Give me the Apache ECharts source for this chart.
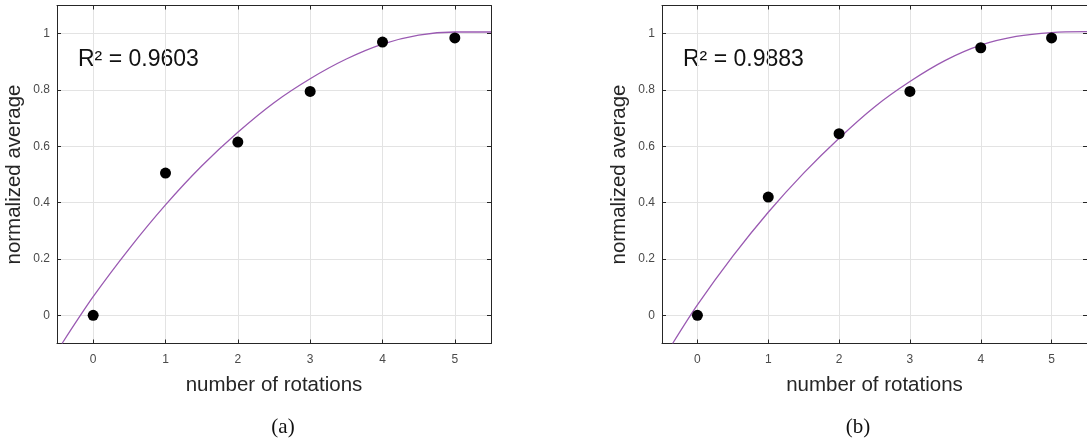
<!DOCTYPE html>
<html><head><meta charset="utf-8">
<script src="https://cdn.jsdelivr.net/npm/echarts@6/dist/echarts.min.js"></script>
<style>html,body{margin:0;padding:0;background:#fff}#c{width:1087px;height:445px}</style>
</head><body><div id="c"></div>
<script>
// ---- data ----
const xTicks = [0, 1, 2, 3, 4, 5];
const yTicks = [0, 0.2, 0.4, 0.6, 0.8, 1];
const rotations = [0, 1, 2, 3, 4, 5];
const avgA = [0, 0.505, 0.615, 0.795, 0.97, 0.985];
const avgB = [0, 0.42, 0.645, 0.795, 0.95, 0.985];
const fitXA = [-0.43, 0, 0.5, 1, 1.5, 2, 2.5, 3, 3.5, 4, 4.5, 5, 5.5];
const fitYA = [-0.1, 0.066, 0.237, 0.392, 0.53, 0.65, 0.755, 0.84, 0.91, 0.963, 0.995, 1.006, 1.006];
const fitXB = [-0.35, 0, 0.5, 1, 1.5, 2, 2.5, 3, 3.5, 4, 4.5, 5, 5.5];
const fitYB = [-0.1, 0.037, 0.21, 0.366, 0.505, 0.629, 0.74, 0.83, 0.905, 0.959, 0.99, 1.004, 1.007];
const r2Labels = ['R\u00B2 = 0.9603', 'R\u00B2 = 0.9883'];
const panelLabels = ['(a)', '(b)'];
const xName = 'number of rotations';
const yName = 'normalized average';

// ---- layout ----
const panels = [
  {left: 57, avg: avgA, fx: fitXA, fy: fitYA, labelX: 283, r2X: 78},
  {left: 662, avg: avgB, fx: fitXB, fy: fitYB, labelX: 858, r2X: 683}
];
const TOP = 5.5, W = 434, H = 338;
const axisCol = '#262626', gridCol = '#e3e3e3', tickLblCol = '#4a4a4a';
const font = 'Arial, "Liberation Sans", Helvetica, sans-serif';

const grid = [], xAxis = [], yAxis = [], series = [], graphic = [];
panels.forEach((p, i) => {
  grid.push({left: p.left, top: TOP, width: W, height: H, show: false});
  const baseX = {
    gridIndex: i, type: 'value', min: -0.5, max: 5.5,
    axisLine: {show: true, onZero: false, lineStyle: {color: axisCol, width: 1}},
    axisTick: {show: true, inside: true, length: 4, customValues: xTicks, lineStyle: {color: axisCol}},
  };
  xAxis.push(Object.assign({}, baseX, {
    position: 'bottom',
    name: xName, nameLocation: 'middle', nameGap: 31,
    nameTextStyle: {fontSize: 20.5, color: axisCol, fontFamily: font},
    axisLabel: {show: true, customValues: xTicks, margin: 10, fontSize: 12, color: tickLblCol, fontFamily: font},
    splitLine: {show: true, lineStyle: {color: gridCol, width: 1}}
  }));
  xAxis.push(Object.assign({}, baseX, {
    position: 'top', axisLabel: {show: false}, splitLine: {show: false}
  }));
  const baseY = {
    gridIndex: i, type: 'value', min: -0.1, max: 1.1,
    axisLine: {show: true, onZero: false, lineStyle: {color: axisCol, width: 1}},
    axisTick: {show: true, inside: true, length: 4, customValues: yTicks, lineStyle: {color: axisCol}},
  };
  yAxis.push(Object.assign({}, baseY, {
    position: 'left',
    name: yName, nameLocation: 'middle', nameGap: 32,
    nameTextStyle: {fontSize: 20.5, color: axisCol, fontFamily: font},
    axisLabel: {show: true, customValues: yTicks, margin: 7, fontSize: 12, color: tickLblCol, fontFamily: font},
    splitLine: {show: true, lineStyle: {color: gridCol, width: 1}}
  }));
  yAxis.push(Object.assign({}, baseY, {
    position: 'right', axisLabel: {show: false}, splitLine: {show: false}
  }));
  series.push({
    type: 'line', xAxisIndex: 2 * i, yAxisIndex: 2 * i,
    data: p.fx.map((x, k) => [x, p.fy[k]]),
    smooth: 0.3, showSymbol: false, symbol: 'none', clip: true,
    lineStyle: {color: '#9a5ab2', width: 1.3}, z: 3, silent: true
  });
  series.push({
    type: 'scatter', xAxisIndex: 2 * i, yAxisIndex: 2 * i,
    data: rotations.map((x, k) => [x, p.avg[k]]),
    symbol: 'circle', symbolSize: 11,
    itemStyle: {color: '#000', opacity: 1}, z: 4, silent: true
  });
  graphic.push({
    type: 'text', left: p.r2X, top: 48,
    style: {text: r2Labels[i], fontSize: 23, fill: '#111', fontFamily: font}
  });
  graphic.push({
    type: 'text', x: p.labelX, y: 427,
    style: {text: panelLabels[i], fontSize: 21, fill: '#111', fontFamily: '"Liberation Serif", "Times New Roman", serif',
            textAlign: 'center', textVerticalAlign: 'middle'}
  });
});

const chart = echarts.init(document.getElementById('c'), null, {renderer: 'canvas'});
chart.setOption({animation: false, backgroundColor: '#fff', grid, xAxis, yAxis, series, graphic});
</script></body></html>
